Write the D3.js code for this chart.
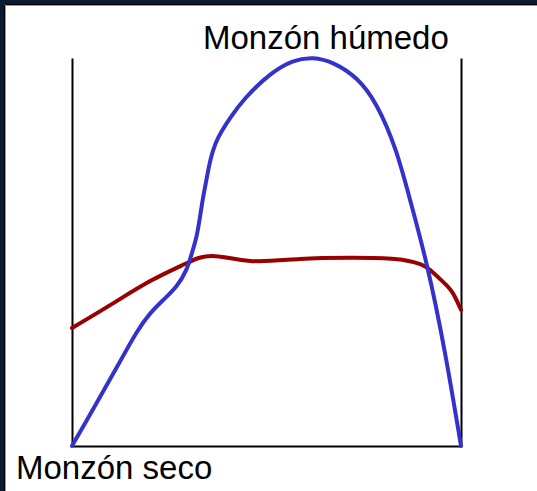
<!DOCTYPE html>
<html>
<head>
<meta charset="utf-8">
<script src="https://cdn.jsdelivr.net/npm/d3@7"></script>
<style>
  html, body { margin: 0; padding: 0; background: #ffffff; }
  svg { display: block; }
</style>
</head>
<body>
<div id="chart"></div>
<script>
// position in the year (0-100) and relative level (0-100)
var wet_x = [0, 2.8, 7.2, 11.6, 17.0, 20.1, 23.4, 27.0, 29.6, 30.8, 32.1, 32.9, 33.7, 34.7, 35.5, 36.8, 38.6, 40.6, 43.9, 50.9, 56.8, 62.0, 67.1, 73.3, 78.4, 83.5, 86.9, 91.3, 95.9, 100];
var wet_y = [0, 4.9, 12.6, 20.4, 30.2, 34.3, 37.6, 41.0, 45.4, 49.7, 53.9, 59.0, 64.2, 69.3, 73.7, 78.1, 81.4, 84.5, 89.2, 96.1, 99.5, 100.3, 99.0, 95.1, 88.4, 76.3, 63.4, 47.2, 24.7, 0];
var dry_x = [0, 9.8, 20.1, 29.0, 36.0, 45.8, 58.6, 71.5, 83.0, 89.5, 92.0, 95.4, 97.9, 100];
var dry_y = [30.4, 36.3, 42.5, 46.9, 49.0, 47.7, 48.2, 48.5, 48.2, 46.9, 45.4, 42.3, 39.4, 35.1];
var label_top = 'Monzón húmedo';
var label_bottom = 'Monzón seco';

function MonsoonPlotter() {
  this._width = 537;
  this._height = 491;
  this._left = 72;
  this._right = 461;
  this._top = 58;
  this._bottom = 446;
  this._font = '"Liberation Sans", Arial, sans-serif';
  this._font_size = '33px';
}

MonsoonPlotter.prototype._frame = function(svg) {
  svg.append('svg:rect')
    .attr('width', this._width).attr('height', this._height)
    .attr('fill', '#ffffff');
  svg.append('svg:rect')
    .attr('x', 0).attr('y', 0).attr('width', this._width).attr('height', 4)
    .attr('fill', '#0b1a31');
  svg.append('svg:rect')
    .attr('x', 0).attr('y', 0).attr('width', 4).attr('height', this._height)
    .attr('fill', '#0b1a31');
  svg.append('svg:path')
    .attr('d', 'M4.5,' + this._height + 'V4.5H' + this._width)
    .attr('fill', 'none').attr('stroke', '#000000').attr('stroke-width', 1);
  svg.append('svg:path')
    .attr('d', 'M5.5,' + this._height + 'V5.5H' + this._width)
    .attr('fill', 'none').attr('stroke', '#9a9a9a').attr('stroke-width', 1);
}

MonsoonPlotter.prototype._zip = function(xs, ys) {
  return xs.map((d, i) => [d, ys[i]]);
}

MonsoonPlotter.prototype.plot = function(container) {
  let svg = d3.select(container).append('svg:svg')
    .attr('width', this._width)
    .attr('height', this._height);

  this._frame(svg);

  let x = d3.scaleLinear().domain([0, 100]).range([this._left, this._right]);
  let y = d3.scaleLinear().domain([0, 100]).range([this._bottom, this._top]);

  let axes = [
    [d3.axisLeft(y), 'translate(' + x(0) + ',0)'],
    [d3.axisRight(y), 'translate(' + x(100) + ',0)'],
    [d3.axisBottom(x), 'translate(0,' + y(0) + ')']
  ];
  for(let a of axes) {
    let g = svg.append('svg:g')
      .attr('transform', a[1])
      .call(a[0].tickValues([]).tickSizeOuter(0));
    g.select('.domain')
      .attr('stroke', '#000000')
      .attr('stroke-width', 2);
  }

  let dry_line = d3.line()
    .x(d => x(d[0]))
    .y(d => y(d[1]))
    .curve(d3.curveNatural);

  // the wet season curve is traced densely, a basis spline smooths the tracing
  let wet_line = d3.line()
    .x(d => x(d[0]))
    .y(d => y(d[1]))
    .curve(d3.curveBasis);

  svg.append('svg:path')
    .datum(this._zip(dry_x, dry_y))
    .attr('d', dry_line)
    .attr('fill', 'none')
    .attr('stroke', '#990000')
    .attr('stroke-width', 4)
    .attr('stroke-linecap', 'round');

  svg.append('svg:path')
    .datum(this._zip(wet_x, wet_y))
    .attr('d', wet_line)
    .attr('fill', 'none')
    .attr('stroke', '#3333cc')
    .attr('stroke-width', 4)
    .attr('stroke-linecap', 'round');

  svg.append('svg:text')
    .attr('x', 203)
    .attr('y', 49)
    .attr('font-family', this._font)
    .attr('font-size', this._font_size)
    .attr('fill', '#000000')
    .text(label_top);

  svg.append('svg:text')
    .attr('x', 16)
    .attr('y', 479)
    .attr('font-family', this._font)
    .attr('font-size', this._font_size)
    .attr('fill', '#000000')
    .text(label_bottom);
}

new MonsoonPlotter().plot('#chart');
</script>
</body>
</html>
